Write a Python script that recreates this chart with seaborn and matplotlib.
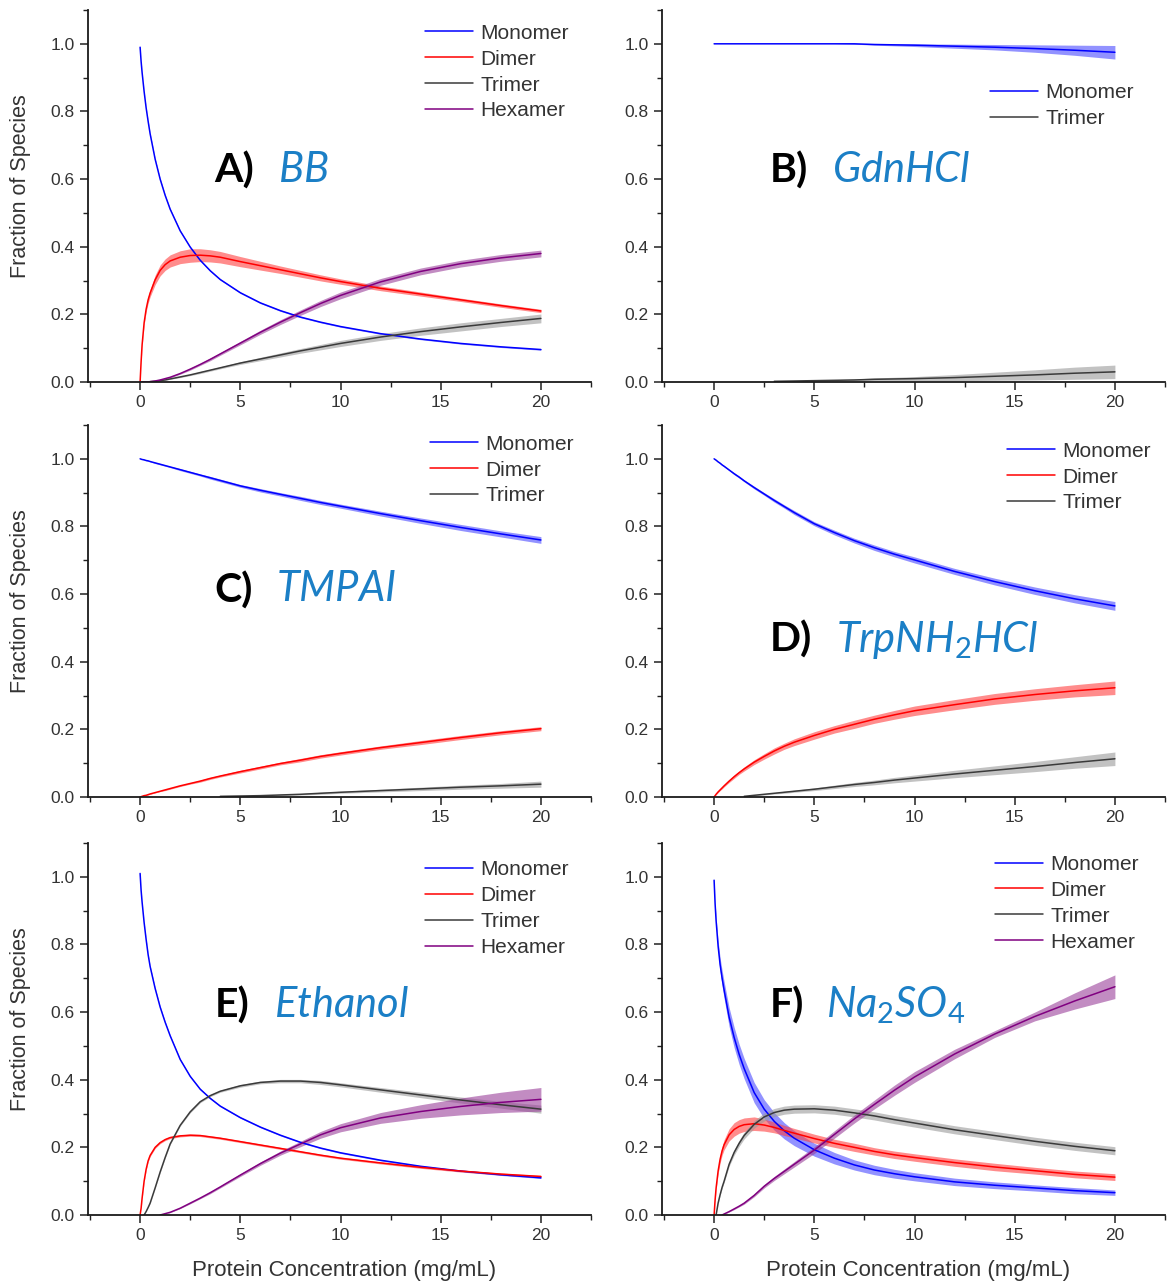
import numpy as np
import seaborn as sns
import matplotlib.pyplot as plt
from matplotlib.ticker import MultipleLocator

nan = np.nan

# protein concentration (mg/mL)
conc = [0, 0.05, 0.1, 0.2, 0.3, 0.4, 0.5, 0.75, 1, 1.25, 1.5, 2, 2.5, 3, 3.5, 4, 5, 6, 7, 8, 9, 10, 12, 14, 16, 18, 20]

# A) BB
bb_monomer = [0.99, 0.948, 0.915, 0.859, 0.811, 0.771, 0.734, 0.659, 0.60, 0.552, 0.511, 0.447, 0.399, 0.36, 0.329, 0.303, 0.264, 0.234, 0.211, 0.192, 0.177, 0.164, 0.143, 0.127, 0.114, 0.104, 0.096]
bb_monomer_err = [0, 0.001, 0.001, 0.001, 0.002, 0.002, 0.002, 0.002, 0.002, 0.002, 0.002, 0.002, 0.002, 0.002, 0.002, 0.002, 0.002, 0.002, 0.002, 0.002, 0.002, 0.002, 0.002, 0.002, 0.002, 0.002, 0.002]
bb_dimer = [0, 0.06, 0.11, 0.175, 0.215, 0.243, 0.263, 0.302, 0.33, 0.347, 0.358, 0.369, 0.374, 0.375, 0.373, 0.369, 0.356, 0.344, 0.332, 0.32, 0.308, 0.297, 0.277, 0.26, 0.243, 0.226, 0.21]
bb_dimer_err = [0, 0.002, 0.004, 0.006, 0.008, 0.01, 0.011, 0.014, 0.016, 0.017, 0.018, 0.019, 0.02, 0.019, 0.018, 0.017, 0.015, 0.013, 0.011, 0.01, 0.009, 0.008, 0.007, 0.006, 0.005, 0.005, 0.005]
bb_trimer = [0, 0, 0, 0, 0, 0, 0.001, 0.002, 0.004, 0.006, 0.009, 0.015, 0.021, 0.028, 0.035, 0.042, 0.056, 0.068, 0.08, 0.092, 0.103, 0.114, 0.133, 0.149, 0.163, 0.176, 0.188]
bb_trimer_err = [0, 0, 0, 0, 0, 0, 0, 0.001, 0.001, 0.001, 0.001, 0.002, 0.002, 0.003, 0.003, 0.003, 0.004, 0.005, 0.006, 0.007, 0.008, 0.009, 0.01, 0.011, 0.012, 0.012, 0.013]
bb_hexamer = [0, 0, 0, 0, 0, 0, 0.001, 0.003, 0.006, 0.01, 0.014, 0.025, 0.038, 0.052, 0.067, 0.083, 0.115, 0.147, 0.177, 0.205, 0.232, 0.256, 0.296, 0.327, 0.35, 0.367, 0.38]
bb_hexamer_err = [0, 0, 0, 0, 0, 0, 0, 0.001, 0.001, 0.001, 0.002, 0.002, 0.003, 0.003, 0.004, 0.004, 0.005, 0.006, 0.007, 0.008, 0.009, 0.01, 0.01, 0.01, 0.01, 0.01, 0.01]

# B) GdnHCl
gdn_monomer = [1.0, 1.0, 1.0, 1.0, 1.0, 1.0, 1.0, 1.0, 1.0, 1.0, 1.0, 1.0, 1.0, 1.0, 1.0, 1.0, 1.0, 1.0, 1.0, 0.998, 0.997, 0.996, 0.993, 0.99, 0.986, 0.981, 0.975]
gdn_monomer_err = [0, 0, 0, 0, 0, 0, 0, 0, 0, 0, 0, 0, 0, 0, 0, 0, 0, 0, 0.001, 0.002, 0.003, 0.004, 0.006, 0.008, 0.011, 0.015, 0.02]
gdn_trimer = [nan, nan, nan, nan, nan, nan, nan, nan, nan, nan, nan, nan, nan, 0.002, 0.0025, 0.003, 0.004, 0.005, 0.006, 0.008, 0.009, 0.01, 0.013, 0.017, 0.021, 0.026, 0.03]
gdn_trimer_err = [nan, nan, nan, nan, nan, nan, nan, nan, nan, nan, nan, nan, nan, 0.001, 0.001, 0.001, 0.002, 0.002, 0.003, 0.004, 0.005, 0.006, 0.009, 0.012, 0.015, 0.018, 0.02]

# C) TMPAI
tmp_monomer = [1.0, 0.999, 0.998, 0.997, 0.995, 0.994, 0.992, 0.988, 0.984, 0.98, 0.976, 0.968, 0.96, 0.952, 0.944, 0.936, 0.92, 0.907, 0.895, 0.883, 0.871, 0.86, 0.838, 0.817, 0.797, 0.778, 0.76]
tmp_monomer_err = [0, 0, 0, 0.001, 0.001, 0.001, 0.001, 0.002, 0.002, 0.002, 0.002, 0.003, 0.003, 0.003, 0.004, 0.004, 0.004, 0.005, 0.005, 0.006, 0.006, 0.006, 0.007, 0.008, 0.009, 0.009, 0.01]
tmp_dimer = [0, 0.001, 0.002, 0.004, 0.005, 0.007, 0.009, 0.013, 0.017, 0.021, 0.025, 0.033, 0.04, 0.047, 0.055, 0.062, 0.075, 0.087, 0.099, 0.109, 0.12, 0.129, 0.146, 0.161, 0.176, 0.19, 0.202]
tmp_dimer_err = [0, 0, 0, 0, 0.001, 0.001, 0.001, 0.001, 0.001, 0.002, 0.002, 0.002, 0.002, 0.003, 0.003, 0.003, 0.004, 0.004, 0.004, 0.005, 0.005, 0.005, 0.005, 0.006, 0.006, 0.006, 0.006]
tmp_trimer = [nan, nan, nan, nan, nan, nan, nan, nan, nan, nan, nan, nan, nan, nan, nan, 0.002, 0.003, 0.004, 0.006, 0.008, 0.011, 0.014, 0.019, 0.024, 0.029, 0.033, 0.038]
tmp_trimer_err = [nan, nan, nan, nan, nan, nan, nan, nan, nan, nan, nan, nan, nan, nan, nan, 0.001, 0.001, 0.001, 0.002, 0.002, 0.003, 0.003, 0.004, 0.005, 0.006, 0.007, 0.009]

# D) TrpNH2HCl
trp_monomer = [1.0, 0.998, 0.996, 0.991, 0.987, 0.982, 0.978, 0.967, 0.956, 0.946, 0.935, 0.915, 0.896, 0.877, 0.859, 0.841, 0.808, 0.782, 0.758, 0.737, 0.718, 0.701, 0.667, 0.637, 0.61, 0.586, 0.565]
trp_monomer_err = [0, 0.001, 0.001, 0.001, 0.002, 0.002, 0.002, 0.002, 0.003, 0.003, 0.003, 0.004, 0.004, 0.005, 0.005, 0.006, 0.006, 0.007, 0.007, 0.008, 0.008, 0.009, 0.009, 0.01, 0.011, 0.012, 0.013]
trp_dimer = [0, 0.004, 0.008, 0.015, 0.021, 0.027, 0.033, 0.047, 0.06, 0.072, 0.083, 0.103, 0.12, 0.136, 0.15, 0.162, 0.182, 0.2, 0.215, 0.23, 0.243, 0.255, 0.273, 0.29, 0.303, 0.314, 0.323]
trp_dimer_err = [0, 0.001, 0.001, 0.002, 0.002, 0.003, 0.003, 0.004, 0.005, 0.005, 0.006, 0.007, 0.008, 0.009, 0.009, 0.01, 0.011, 0.011, 0.012, 0.012, 0.013, 0.014, 0.015, 0.016, 0.017, 0.018, 0.02]
trp_trimer = [nan, nan, nan, nan, nan, nan, nan, nan, nan, nan, 0.002, 0.005, 0.008, 0.011, 0.014, 0.017, 0.023, 0.03, 0.037, 0.043, 0.05, 0.056, 0.068, 0.079, 0.09, 0.102, 0.113]
trp_trimer_err = [nan, nan, nan, nan, nan, nan, nan, nan, nan, nan, 0.001, 0.001, 0.002, 0.002, 0.003, 0.003, 0.004, 0.005, 0.006, 0.007, 0.008, 0.009, 0.011, 0.013, 0.015, 0.017, 0.02]

# E) Ethanol
eth_monomer = [1.01, 0.96, 0.925, 0.865, 0.815, 0.77, 0.735, 0.67, 0.615, 0.57, 0.53, 0.46, 0.41, 0.372, 0.345, 0.322, 0.288, 0.26, 0.236, 0.215, 0.198, 0.184, 0.162, 0.144, 0.13, 0.119, 0.11]
eth_monomer_err = [0, 0.001, 0.001, 0.001, 0.002, 0.002, 0.002, 0.002, 0.002, 0.002, 0.002, 0.002, 0.002, 0.002, 0.002, 0.002, 0.002, 0.002, 0.002, 0.002, 0.002, 0.002, 0.002, 0.002, 0.002, 0.002, 0.002]
eth_dimer = [0, 0.02, 0.05, 0.1, 0.135, 0.16, 0.176, 0.2, 0.214, 0.223, 0.229, 0.234, 0.236, 0.235, 0.231, 0.227, 0.217, 0.207, 0.197, 0.187, 0.177, 0.168, 0.154, 0.141, 0.13, 0.121, 0.114]
eth_dimer_err = [0, 0.001, 0.002, 0.002, 0.003, 0.003, 0.003, 0.003, 0.003, 0.003, 0.003, 0.003, 0.003, 0.003, 0.003, 0.003, 0.003, 0.003, 0.003, 0.003, 0.003, 0.003, 0.003, 0.003, 0.003, 0.003, 0.003]
eth_trimer = [nan, nan, nan, 0.0, 0.01, 0.022, 0.035, 0.08, 0.127, 0.17, 0.21, 0.265, 0.305, 0.335, 0.353, 0.366, 0.382, 0.392, 0.396, 0.396, 0.392, 0.385, 0.37, 0.355, 0.34, 0.326, 0.313]
eth_trimer_err = [nan, nan, nan, 0, 0, 0, 0.001, 0.001, 0.002, 0.002, 0.002, 0.002, 0.003, 0.003, 0.003, 0.003, 0.004, 0.004, 0.005, 0.005, 0.006, 0.006, 0.007, 0.008, 0.009, 0.01, 0.012]
eth_hexamer = [nan, nan, nan, nan, nan, nan, nan, nan, 0.0, 0.004, 0.008, 0.02, 0.035, 0.05, 0.066, 0.083, 0.118, 0.152, 0.183, 0.21, 0.237, 0.258, 0.287, 0.306, 0.321, 0.333, 0.342]
eth_hexamer_err = [nan, nan, nan, nan, nan, nan, nan, nan, 0, 0, 0.001, 0.001, 0.002, 0.002, 0.003, 0.003, 0.004, 0.005, 0.006, 0.008, 0.01, 0.012, 0.016, 0.02, 0.025, 0.03, 0.035]

# F) Na2SO4
na_monomer = [0.99, 0.92, 0.87, 0.795, 0.74, 0.70, 0.665, 0.585, 0.525, 0.475, 0.433, 0.362, 0.313, 0.277, 0.249, 0.227, 0.193, 0.168, 0.148, 0.133, 0.122, 0.113, 0.098, 0.088, 0.08, 0.072, 0.066]
na_monomer_err = [0, 0.006, 0.01, 0.016, 0.02, 0.023, 0.025, 0.028, 0.03, 0.03, 0.03, 0.03, 0.028, 0.026, 0.024, 0.022, 0.019, 0.017, 0.015, 0.014, 0.013, 0.012, 0.011, 0.01, 0.009, 0.009, 0.008]
na_dimer = [0, 0.045, 0.08, 0.13, 0.165, 0.19, 0.208, 0.237, 0.253, 0.262, 0.267, 0.27, 0.266, 0.259, 0.25, 0.242, 0.226, 0.212, 0.2, 0.188, 0.178, 0.17, 0.155, 0.142, 0.131, 0.12, 0.112]
na_dimer_err = [0, 0.003, 0.005, 0.008, 0.011, 0.013, 0.015, 0.018, 0.02, 0.02, 0.02, 0.02, 0.018, 0.016, 0.015, 0.014, 0.013, 0.012, 0.012, 0.011, 0.011, 0.011, 0.011, 0.011, 0.01, 0.01, 0.01]
na_trimer = [nan, nan, 0.0, 0.035, 0.06, 0.082, 0.1, 0.15, 0.185, 0.212, 0.235, 0.268, 0.29, 0.303, 0.31, 0.313, 0.314, 0.31, 0.302, 0.293, 0.282, 0.272, 0.252, 0.235, 0.218, 0.203, 0.19]
na_trimer_err = [nan, nan, 0, 0.001, 0.002, 0.003, 0.004, 0.006, 0.008, 0.009, 0.01, 0.011, 0.012, 0.012, 0.012, 0.012, 0.012, 0.012, 0.012, 0.012, 0.012, 0.012, 0.012, 0.012, 0.012, 0.012, 0.012]
na_hexamer = [nan, nan, nan, nan, nan, 0.0, 0.003, 0.01, 0.018, 0.026, 0.035, 0.058, 0.085, 0.108, 0.129, 0.15, 0.192, 0.238, 0.284, 0.327, 0.369, 0.408, 0.476, 0.535, 0.587, 0.633, 0.675]
na_hexamer_err = [nan, nan, nan, nan, nan, 0, 0.001, 0.001, 0.002, 0.002, 0.003, 0.004, 0.005, 0.006, 0.007, 0.008, 0.01, 0.011, 0.012, 0.013, 0.015, 0.016, 0.014, 0.01, 0.013, 0.024, 0.035]

species_colors = {
    "Monomer": ("#0000ff", "#4a4aff"),
    "Dimer": ("#ff0000", "#ff4040"),
    "Trimer": ("#3a3a3a", "#9a9a9a"),
    "Hexamer": ("#800080", "#9a3f9a"),
}

sns.set_style("ticks")
plt.rcParams["font.family"] = ["Liberation Sans", "DejaVu Sans"]
plt.rcParams["mathtext.fontset"] = "custom"
plt.rcParams["mathtext.it"] = "Lato:italic"
plt.rcParams["mathtext.rm"] = "Lato"
plt.rcParams["mathtext.bf"] = "Lato:bold"

fig = plt.figure(figsize=(11.72, 12.86), dpi=100)

W, H = 1172, 1286


def add_ax(left_px, bottom_px):
    return fig.add_axes([left_px / W, 1 - bottom_px / H, 503 / W, 372 / H])


panels = [
    # axes, curves, letter, name, text y, letter x, name x, legend anchor
    (add_ax(88, 382), [("Monomer", bb_monomer, bb_monomer_err), ("Dimer", bb_dimer, bb_dimer_err),
                       ("Trimer", bb_trimer, bb_trimer_err), ("Hexamer", bb_hexamer, bb_hexamer_err)],
     "A)", r"$BB$", 0.625, 3.7, 6.9, (0.67, 0.963)),
    (add_ax(662, 382), [("Monomer", gdn_monomer, gdn_monomer_err), ("Trimer", gdn_trimer, gdn_trimer_err)],
     "B)", r"$GdnHCl$", 0.625, 2.8, 5.9, (0.652, 0.803)),
    (add_ax(88, 797), [("Monomer", tmp_monomer, tmp_monomer_err), ("Dimer", tmp_dimer, tmp_dimer_err),
                       ("Trimer", tmp_trimer, tmp_trimer_err)],
     "C)", r"$TMPAI$", 0.611, 3.7, 6.8, (0.68, 0.974)),
    (add_ax(662, 797), [("Monomer", trp_monomer, trp_monomer_err), ("Dimer", trp_dimer, trp_dimer_err),
                        ("Trimer", trp_trimer, trp_trimer_err)],
     "D)", r"$TrpNH_2HCl$", 0.465, 2.8, 6.1, (0.686, 0.955)),
    (add_ax(88, 1215), [("Monomer", eth_monomer, eth_monomer_err), ("Dimer", eth_dimer, eth_dimer_err),
                        ("Trimer", eth_trimer, eth_trimer_err), ("Hexamer", eth_hexamer, eth_hexamer_err)],
     "E)", r"$Ethanol$", 0.618, 3.7, 6.7, (0.67, 0.953)),
    (add_ax(662, 1215), [("Monomer", na_monomer, na_monomer_err), ("Dimer", na_dimer, na_dimer_err),
                         ("Trimer", na_trimer, na_trimer_err), ("Hexamer", na_hexamer, na_hexamer_err)],
     "F)", r"$Na_2SO_4$", 0.618, 2.8, 5.6, (0.662, 0.968)),
]

x = np.array(conc)
for i, (ax, curves, letter, name, ty, lx, nx, leg_xy) in enumerate(panels):
    # error bands first, lines on top
    for species, vals, err in curves:
        line_c, band_c = species_colors[species]
        y = np.array(vals, dtype=float)
        e = np.array(err, dtype=float)
        ax.fill_between(x, y - e, y + e, color=band_c, alpha=0.6, lw=0)
    for species, vals, err in curves:
        line_c, band_c = species_colors[species]
        sns.lineplot(x=x, y=np.array(vals, dtype=float), ax=ax, color=line_c, lw=1.1,
                     label=species, estimator=None, errorbar=None)

    ax.set_xlim(-2.6, 22.5)
    ax.set_ylim(0, 1.1)
    ax.xaxis.set_major_locator(MultipleLocator(5))
    ax.xaxis.set_minor_locator(MultipleLocator(2.5))
    ax.yaxis.set_major_locator(MultipleLocator(0.2))
    ax.yaxis.set_minor_locator(MultipleLocator(0.1))
    ax.tick_params(which="major", direction="out", length=6, width=1.1, labelsize=12.5,
                   labelcolor="#333333", color="#222222")
    ax.tick_params(which="minor", direction="out", length=3.5, width=1.0, color="#222222")
    sns.despine(ax=ax)
    for sp in ("left", "bottom"):
        ax.spines[sp].set_linewidth(1.3)
        ax.spines[sp].set_color("#1a1a1a")

    ax.text(lx, ty, letter, fontsize=29.5, fontweight="bold", family="Lato", color="black",
            ha="left", va="center")
    ax.text(nx, ty, name, fontsize=30, color="#1b7fc6", ha="left", va="center")

    leg = ax.legend(loc="upper left", bbox_to_anchor=leg_xy, frameon=False, fontsize=15,
                    handlelength=2.3, handletextpad=0.35, labelspacing=0.33, borderpad=0,
                    borderaxespad=0)
    for t in leg.get_texts():
        t.set_color("#333333")

    ax.set_xlabel("")
    ax.set_ylabel("")
    if i % 2 == 0:
        ax.set_ylabel("Fraction of Species", fontsize=15.5, color="#333333")
        ax.yaxis.set_label_coords(-0.113, 0.527)
    if i >= 4:
        ax.set_xlabel("Protein Concentration (mg/mL)", fontsize=16, color="#333333")
        ax.xaxis.set_label_coords(0.51, -0.122)

fig.savefig("out.png", dpi=100)
